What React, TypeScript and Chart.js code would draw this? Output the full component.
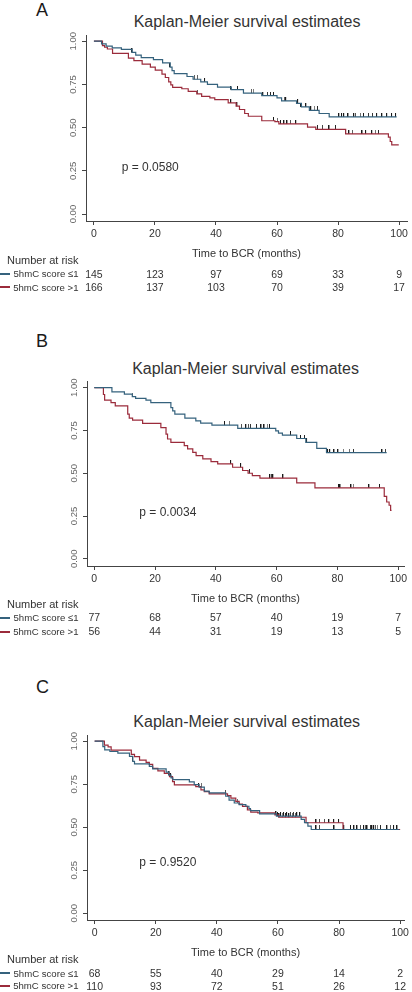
import React, { useEffect, useRef, useState } from "react";
import { Chart, registerables } from "chart.js";
Chart.register(...registerables);

const FONT = '"Liberation Sans", Arial, Helvetica, sans-serif';
const BLUE = "#35627d";
const RED = "#9b2b3b";
const INK = "#333333";

const xTickValues = [0, 20, 40, 60, 80, 100];
const yTickValues = [0, 0.25, 0.5, 0.75, 1];
const riskTimes = [0, 20, 40, 60, 80, 100];
const groupLabels = ["5hmC score \u22641", "5hmC score >1"];
const chartTitle = "Kaplan-Meier survival estimates";
const xAxisTitle = "Time to BCR (months)";
const riskHeader = "Number at risk";

// ---------- Panel A ----------
const aLowTime = [0, 2.5, 4, 6, 9, 12.5, 13.7, 15.5, 19.5, 22.5, 25, 25.6, 26.3, 30.5, 32.5, 35, 37.2, 40.5, 45, 49, 55, 60, 61.5, 66.4, 68, 70.6, 73.8, 77.1, 99.2];
const aLowSurv = [1, 0.985, 0.972, 0.962, 0.953, 0.935, 0.92, 0.905, 0.893, 0.875, 0.85, 0.83, 0.812, 0.796, 0.78, 0.765, 0.75, 0.735, 0.72, 0.7, 0.685, 0.672, 0.655, 0.64, 0.62, 0.6, 0.582, 0.562, 0.562];
const aHighTime = [0, 2.8, 3.5, 4.4, 6.1, 11.3, 13.1, 15.8, 18.5, 20.1, 22.3, 23.4, 24.5, 25.2, 25.8, 28.8, 30.9, 33.7, 35.3, 38, 39.6, 44, 46.6, 47.7, 49.4, 50.6, 55, 59.3, 60.6, 70, 72.7, 82.5, 96.5, 97.1, 97.6, 99.9];
const aHighSurv = [1, 0.975, 0.965, 0.955, 0.93, 0.902, 0.888, 0.868, 0.85, 0.833, 0.81, 0.79, 0.765, 0.748, 0.733, 0.725, 0.71, 0.695, 0.681, 0.672, 0.662, 0.643, 0.624, 0.605, 0.582, 0.566, 0.54, 0.535, 0.522, 0.503, 0.49, 0.464, 0.445, 0.42, 0.4, 0.4];
const aLowCensor = [12.6, 25, 33, 34, 36.4, 45, 47.2, 51.7, 52.3, 55.5, 57, 58, 59, 62.5, 63, 66.9, 68, 69.6, 71.2, 72.3, 73.4, 80.4, 81.3, 82, 83.4, 85.3, 85.8, 87.4, 88.5, 90.1, 91.4, 92.8, 94.5, 96.1, 97.7, 99];
const aHighCensor = [34, 45, 47, 59, 60.2, 61.3, 62.4, 63.4, 64.5, 66.3, 73.4, 75, 77.2, 79.3, 82.6, 83.7, 84.8, 88, 89.2, 91.2, 92.3, 93.4];
const aLowRisk = [145, 123, 97, 69, 33, 9];
const aHighRisk = [166, 137, 103, 70, 39, 17];
const aPValue = "p = 0.0580";

// ---------- Panel B ----------
const bLowTime = [0, 5.8, 9.9, 12.5, 13.6, 17, 18.6, 25.2, 25.8, 26.5, 29.8, 33.4, 35, 38.7, 47.2, 59.7, 60.6, 61.9, 66.6, 69.6, 73.2, 76.4, 96.2];
const bLowSurv = [1, 0.975, 0.962, 0.948, 0.938, 0.927, 0.913, 0.884, 0.865, 0.845, 0.822, 0.806, 0.793, 0.781, 0.762, 0.748, 0.735, 0.723, 0.703, 0.68, 0.645, 0.62, 0.62];
const bHighTime = [0, 3, 3.4, 5.5, 6.9, 11, 11.5, 12.6, 15.9, 21.9, 23.6, 24.1, 25.2, 29.6, 30.7, 32.4, 33.5, 35.7, 38.4, 40.6, 45.5, 48.8, 50.6, 52, 54.5, 66.6, 72.6, 95.4, 96.2, 97, 97.5, 97.8];
const bHighSurv = [1, 0.96, 0.927, 0.913, 0.894, 0.845, 0.822, 0.81, 0.791, 0.767, 0.729, 0.7, 0.68, 0.661, 0.642, 0.622, 0.603, 0.584, 0.568, 0.555, 0.535, 0.516, 0.5, 0.486, 0.471, 0.444, 0.415, 0.365, 0.332, 0.313, 0.283, 0.283];
const bLowCensor = [12.6, 43, 44.5, 48.5, 50, 50.8, 51.5, 53.5, 55, 56, 57, 57.8, 64.7, 68, 69.3, 70, 76.9, 77.6, 79, 80.3, 82, 84, 85.4, 94.8, 95.9];
const bHighCensor = [45, 48.3, 51.2, 57.9, 58.4, 58.9, 62.2, 80.5, 81, 84.6, 85.3, 90.5, 94];
const bLowRisk = [77, 68, 57, 40, 19, 7];
const bHighRisk = [56, 44, 31, 19, 13, 5];
const bPValue = "p = 0.0034";

// ---------- Panel C ----------
const cLowTime = [0, 2.7, 3.3, 5, 7.6, 11.4, 12.5, 13.05, 17.9, 19, 23.4, 24.3, 25, 25.6, 31, 32.6, 34.2, 35.9, 37.5, 42.9, 44, 45.7, 47.3, 49.5, 50.5, 51, 54, 59.5, 67.6, 68.7, 69.8, 70.9, 99.7];
const cLowSurv = [1, 0.969, 0.95, 0.94, 0.931, 0.912, 0.883, 0.868, 0.854, 0.839, 0.82, 0.803, 0.787, 0.777, 0.764, 0.748, 0.733, 0.71, 0.7, 0.68, 0.657, 0.641, 0.632, 0.622, 0.609, 0.597, 0.578, 0.565, 0.546, 0.527, 0.507, 0.487, 0.487];
const cHighTime = [0, 3.2, 4.4, 5.4, 12, 13.05, 14.7, 16.85, 17.9, 19, 20.7, 22.8, 24.5, 25.5, 26.1, 33.1, 34.8, 35.9, 37.5, 43.5, 44.6, 46.2, 47.3, 48.4, 50, 51.1, 53.4, 59, 60.3, 69.2, 81.3, 100];
const cHighSurv = [1, 0.977, 0.967, 0.948, 0.923, 0.91, 0.89, 0.877, 0.865, 0.842, 0.827, 0.813, 0.794, 0.765, 0.746, 0.736, 0.717, 0.707, 0.694, 0.684, 0.669, 0.65, 0.634, 0.621, 0.601, 0.588, 0.584, 0.572, 0.558, 0.526, 0.487, 0.487];
const cLowCensor = [12.5, 24.5, 35, 46.8, 60, 61, 62, 63, 64.2, 65.2, 66.3, 67.3, 72.6, 73.7, 78.5, 81.7, 83.9, 86, 87.1, 88.2, 89.3, 90.4, 91.5, 92.6, 93.7, 96.9, 98, 99.1];
const cHighCensor = [25, 34.2, 42.9, 59.5, 60.5, 61.5, 62.6, 63.7, 64.8, 65.8, 72.6, 73.7, 75.3, 76.8, 78.4, 80, 85, 88.7, 90.9, 92, 95.8];
const cLowRisk = [68, 55, 40, 29, 14, 2];
const cHighRisk = [110, 93, 72, 51, 26, 12];
const cPValue = "p = 0.9520";

// value of a Kaplan-Meier step curve at time t
function stepAt(times: number[], surv: number[], t: number) {
  let v = surv[0];
  for (let i = 0; i < times.length; i++) {
    if (times[i] <= t) v = surv[i];
    else break;
  }
  return v;
}

function makeCensorMark() {
  const c = document.createElement("canvas");
  c.width = 2;
  c.height = 8;
  const g = c.getContext("2d")!;
  g.fillStyle = "#1a1a1a";
  g.fillRect(0, 0, 1, 4);
  return c;
}

const yRotLabels = {
  id: "yRotLabels",
  afterDraw(chart: any) {
    const s = chart.scales.y;
    const ctx = chart.ctx;
    ctx.save();
    ctx.font = `9.5px ${FONT}`;
    ctx.fillStyle = "#666";
    ctx.textAlign = "center";
    ctx.textBaseline = "middle";
    s.ticks.forEach((tk: any) => {
      const py = s.getPixelForValue(tk.value);
      ctx.save();
      ctx.translate(chart.chartArea.left - 13, py);
      ctx.rotate(-Math.PI / 2);
      ctx.fillText(Number(tk.value).toFixed(2), 0, 0);
      ctx.restore();
    });
    ctx.restore();
  },
};

type Geo = {
  letterY: number;
  titleY: number;
  titleX: number;
  plotLeft: number;
  plotRight: number;
  plotTop: number;
  plotBottom: number;
  xMin: number;
  xMax: number;
  yMin: number;
  yMax: number;
  pX: number;
  pY: number;
  headerY: number;
  row1Y: number;
  row2Y: number;
};

type PanelProps = {
  g: Geo;
  letter: string;
  pValue: string;
  lowTime: number[];
  lowSurv: number[];
  highTime: number[];
  highSurv: number[];
  lowCensor: number[];
  highCensor: number[];
  lowRisk: number[];
  highRisk: number[];
};

const AXIS_H = 40;
const PAD_TOP = 4;

function KMPanel(props: PanelProps) {
  const { g } = props;
  const ref = useRef<HTMLCanvasElement | null>(null);
  const [riskX, setRiskX] = useState<number[]>([]);

  const canvasTop = g.plotTop - PAD_TOP;
  const canvasH = g.plotBottom - g.plotTop + PAD_TOP + AXIS_H;

  useEffect(() => {
    if (!ref.current) return;
    const mark = makeCensorMark();
    const chart = new Chart(ref.current, {
      type: "line",
      data: {
        datasets: [
          {
            data: props.lowTime.map((t, i) => ({ x: t, y: props.lowSurv[i] })),
            borderColor: BLUE,
            borderWidth: 1.2,
            stepped: true,
            pointRadius: 0,
            fill: false,
          },
          {
            data: props.highTime.map((t, i) => ({ x: t, y: props.highSurv[i] })),
            borderColor: RED,
            borderWidth: 1.2,
            stepped: true,
            pointRadius: 0,
            fill: false,
          },
          {
            data: props.lowCensor.map((t) => ({ x: t, y: stepAt(props.lowTime, props.lowSurv, t) })),
            showLine: false,
            pointStyle: mark as any,
            pointRadius: 2,
            borderColor: "#1a1a1a",
          },
          {
            data: props.highCensor.map((t) => ({ x: t, y: stepAt(props.highTime, props.highSurv, t) })),
            showLine: false,
            pointStyle: mark as any,
            pointRadius: 2,
            borderColor: "#1a1a1a",
          },
        ],
      },
      options: {
        animation: false,
        responsive: false,
        maintainAspectRatio: false,
        events: [],
        layout: { padding: { top: PAD_TOP, left: 0, right: 412 - g.plotRight, bottom: 0 } },
        plugins: { legend: { display: false }, tooltip: { enabled: false }, title: { display: false } },
        scales: {
          x: {
            type: "linear",
            min: g.xMin,
            max: g.xMax,
            afterBuildTicks: (s: any) => {
              s.ticks = xTickValues.map((v) => ({ value: v }));
            },
            afterFit: (s: any) => {
              s.height = AXIS_H;
            },
            border: { display: true, color: "#444", width: 1 },
            grid: { display: true, drawOnChartArea: false, drawTicks: true, tickLength: 4, color: "#444" },
            ticks: {
              color: INK,
              font: { family: FONT, size: 10.5 },
              padding: 3,
              maxRotation: 0,
              autoSkip: false,
              callback: (v: any) => String(v),
            },
            title: {
              display: true,
              text: xAxisTitle,
              color: INK,
              font: { family: FONT, size: 11 },
              padding: 0,
            },
          },
          y: {
            type: "linear",
            min: g.yMin,
            max: g.yMax,
            afterBuildTicks: (s: any) => {
              s.ticks = yTickValues.map((v) => ({ value: v }));
            },
            afterFit: (s: any) => {
              s.width = g.plotLeft;
            },
            border: { display: true, color: "#444", width: 1 },
            grid: { display: true, drawOnChartArea: false, drawTicks: true, tickLength: 4, color: "#444" },
            ticks: { display: false },
          },
        },
      },
      plugins: [yRotLabels],
    } as any);
    setRiskX(riskTimes.map((t) => chart.scales.x.getPixelForValue(t)));
    return () => chart.destroy();
  }, []);

  const text = (y: number, size: number, extra: any) => ({
    position: "absolute" as const,
    top: y - size * 0.6,
    height: size * 1.2,
    lineHeight: `${size * 1.2}px`,
    fontSize: size,
    color: INK,
    whiteSpace: "nowrap" as const,
    ...extra,
  });

  return (
    <>
      <div style={text(g.letterY, 18, { left: 36, color: "#1a1a1a" })}>{props.letter}</div>
      <div style={text(g.titleY, 16, { left: g.titleX - 150, width: 300, textAlign: "center" })}>{chartTitle}</div>
      <canvas
        ref={ref}
        width={412}
        height={canvasH}
        style={{ position: "absolute", left: 0, top: canvasTop, width: 412, height: canvasH, display: "block" }}
      />
      <div style={text(g.pY, 12, { left: g.pX })}>{props.pValue}</div>
      <div style={text(g.headerY, 11, { left: 0, width: 78.5, textAlign: "right" })}>{riskHeader}</div>
      <div style={text(g.row1Y, 9.6, { left: 0, width: 78.5, textAlign: "right" })}>{groupLabels[0]}</div>
      <div style={text(g.row2Y, 9.6, { left: 0, width: 78.5, textAlign: "right" })}>{groupLabels[1]}</div>
      <div style={{ position: "absolute", left: 0, top: g.row1Y - 1, width: 10, height: 2, background: BLUE }} />
      <div style={{ position: "absolute", left: 0, top: g.row2Y - 1, width: 10, height: 2, background: RED }} />
      {riskX.map((x, i) => (
        <React.Fragment key={i}>
          <div style={text(g.row1Y, 10.5, { left: x - 20, width: 40, textAlign: "center" })}>{props.lowRisk[i]}</div>
          <div style={text(g.row2Y, 10.5, { left: x - 20, width: 40, textAlign: "center" })}>{props.highRisk[i]}</div>
        </React.Fragment>
      ))}
    </>
  );
}

const geoA: Geo = {
  letterY: 10.8, titleY: 21.7, titleX: 247,
  plotLeft: 86, plotRight: 410, plotTop: 34, plotBottom: 221,
  xMin: -2.6, xMax: 102.6, yMin: -0.04, yMax: 1.036,
  pX: 121.7, pY: 167.3, headerY: 260.7, row1Y: 274, row2Y: 287.3,
};
const geoB: Geo = {
  letterY: 341.7, titleY: 368.3, titleX: 245.5,
  plotLeft: 87, plotRight: 404, plotTop: 380, plotBottom: 566,
  xMin: -2.4, xMax: 101.9, yMin: -0.042, yMax: 1.039,
  pX: 139.3, pY: 511.7, headerY: 605, row1Y: 617.7, row2Y: 631.7,
};
const geoC: Geo = {
  letterY: 687.5, titleY: 721.7, titleX: 246.7,
  plotLeft: 87, plotRight: 405, plotTop: 734, plotBottom: 920,
  xMin: -2.5, xMax: 101.3, yMin: -0.039, yMax: 1.036,
  pX: 139.3, pY: 862.3, headerY: 960, row1Y: 973.3, row2Y: 986,
};

export default function App() {
  return (
    <div
      style={{
        position: "absolute",
        left: 0,
        top: 0,
        width: 412,
        height: 992,
        background: "#fff",
        fontFamily: FONT,
        overflow: "hidden",
      }}
    >
      <KMPanel
        g={geoA}
        letter="A"
        pValue={aPValue}
        lowTime={aLowTime}
        lowSurv={aLowSurv}
        highTime={aHighTime}
        highSurv={aHighSurv}
        lowCensor={aLowCensor}
        highCensor={aHighCensor}
        lowRisk={aLowRisk}
        highRisk={aHighRisk}
      />
      <KMPanel
        g={geoB}
        letter="B"
        pValue={bPValue}
        lowTime={bLowTime}
        lowSurv={bLowSurv}
        highTime={bHighTime}
        highSurv={bHighSurv}
        lowCensor={bLowCensor}
        highCensor={bHighCensor}
        lowRisk={bLowRisk}
        highRisk={bHighRisk}
      />
      <KMPanel
        g={geoC}
        letter="C"
        pValue={cPValue}
        lowTime={cLowTime}
        lowSurv={cLowSurv}
        highTime={cHighTime}
        highSurv={cHighSurv}
        lowCensor={cLowCensor}
        highCensor={cHighCensor}
        lowRisk={cLowRisk}
        highRisk={cHighRisk}
      />
    </div>
  );
}
